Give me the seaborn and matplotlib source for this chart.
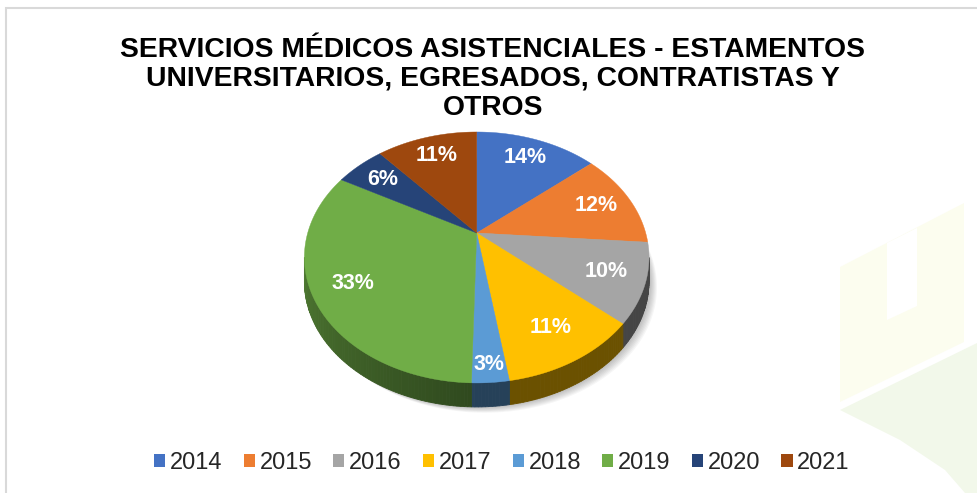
import numpy as np
import matplotlib
matplotlib.use("Agg")
from matplotlib import pyplot as plt
from matplotlib.patches import Polygon, Patch, Rectangle
import seaborn as sns

# Data
years = ["2014", "2015", "2016", "2017", "2018", "2019", "2020", "2021"]
shares = [13.8, 12.4, 10.2, 11.1, 2.9, 32.6, 5.6, 11.4]
colors = ["#4472c4", "#ed7d31", "#a5a5a5", "#ffc000", "#5b9bd5", "#70ad47", "#264478", "#9e480e"]
title = ("SERVICIOS MÉDICOS ASISTENCIALES - ESTAMENTOS\n"
         "UNIVERSITARIOS, EGRESADOS, CONTRATISTAS Y\n"
         "OTROS")

sns.set_theme(style="white")
plt.rcParams['font.family'] = ['Liberation Sans', 'DejaVu Sans']

# 3D pie geometry, in pixel units of the axes
CX, CY = 476.7, 233.0      # apex of the slices
A, B, K = 169.0, 120.7, 0.195  # horizontal radius, vertical radius, perspective
DEPTH = 24.0
LABEL_R = 0.78
label_r_override = {"2018": 0.9}


def proj(theta, r=1.0, drop=0.0):
    u = r * np.sin(theta)
    v = r * np.cos(theta)
    s = 1.0 / (1.0 + K * v)
    return CX + A * u * s, CY - B * v * s + drop


def shade(color, f):
    rgb = np.array(matplotlib.colors.to_rgb(color))
    return tuple(np.clip(rgb * f, 0, 1))


fig = plt.figure(figsize=(9.77, 4.93), dpi=100)
ax = fig.add_axes([0, 0, 1, 1])
ax.set_xlim(0, 977)
ax.set_ylim(493, 0)
ax.axis("off")

# faint watermark in the lower right corner
ax.add_patch(Polygon([(840, 267), (964, 203), (964, 342), (840, 402)], closed=True,
                     facecolor="#fcfdef", edgecolor="none", zorder=0))
ax.add_patch(Polygon([(887, 243), (917, 228), (917, 306), (887, 320)], closed=True,
                     facecolor="white", edgecolor="none", zorder=0))
ax.add_patch(Polygon([(840, 410), (977, 343), (977, 493), (965, 493), (945, 470), (900, 440)],
                     closed=True, facecolor="#f2f8ea", edgecolor="none", zorder=0))

# chart frame
fig.patches.append(Rectangle((6 / 977, -0.1), 1.2, (493 - 8) / 493 + 0.1, transform=fig.transFigure,
                             fill=False, edgecolor="#d9d9d9", linewidth=1.5, zorder=5))

# angles of slices (clockwise from 12 o'clock)
total = float(sum(shares))
bounds = np.concatenate([[0], np.cumsum(shares)]) / total * 2 * np.pi
vis_lo = np.arccos(-K)
vis_hi = 2 * np.pi - vis_lo

# soft shadow
tt = np.linspace(0, 2 * np.pi, 360)
for i in range(7):
    xs, ys = proj(tt, 1.0, DEPTH)
    ax.add_patch(Polygon(np.column_stack([xs + 2 + i, ys + 1 + i * 0.8]), closed=True,
                         facecolor="black", alpha=0.035, edgecolor="none", zorder=1))

# side walls
for i, c in enumerate(colors):
    a, b = max(bounds[i], vis_lo), min(bounds[i + 1], vis_hi)
    if b <= a:
        continue
    steps = np.linspace(a, b, max(2, int(np.degrees(b - a)) + 2))
    for t0, t1 in zip(steps[:-1], steps[1:]):
        tm = 0.5 * (t0 + t1)
        f = 0.42 + 0.28 * max(0.0, (tm - np.pi) / (vis_hi - np.pi))
        x0, y0 = proj(t0)
        x1, y1 = proj(t1)
        ax.add_patch(Polygon([(x0, y0), (x1, y1), (x1, y1 + DEPTH), (x0, y0 + DEPTH)], closed=True,
                             facecolor=shade(c, f), edgecolor=shade(c, f), linewidth=0.6, zorder=2))

# top face wedges
for i, c in enumerate(colors):
    t = np.linspace(bounds[i], bounds[i + 1], 200)
    xs, ys = proj(t)
    pts = np.vstack([[CX, CY], np.column_stack([xs, ys])])
    ax.add_patch(Polygon(pts, closed=True, facecolor=c, edgecolor=c, linewidth=0.3, zorder=3))

# percentage labels
for i, (yr, v) in enumerate(zip(years, shares)):
    tm = 0.5 * (bounds[i] + bounds[i + 1])
    lx, ly = proj(tm, label_r_override.get(yr, LABEL_R))
    ax.text(lx, ly, f"{round(v / total * 100):d}%", ha="center", va="center",
            color="white", fontsize=15.5, fontweight="bold", zorder=4)

# title
fig.text(493 / 977, 1 - 79 / 493, title, ha="center", va="center", fontsize=20.3,
         fontweight="bold", linespacing=1.15, color="black")

# legend
handles = [Patch(facecolor=c, edgecolor="none", label=y) for y, c in zip(years, colors)]
fig.legend(handles=handles, loc="center", bbox_to_anchor=(502 / 977, 1 - 463 / 493), ncol=8,
           frameon=False, fontsize=17, handlelength=0.47, handleheight=0.47,
           handletextpad=0.2, columnspacing=0.9, borderpad=0)

fig.savefig("out.png", dpi=100)
